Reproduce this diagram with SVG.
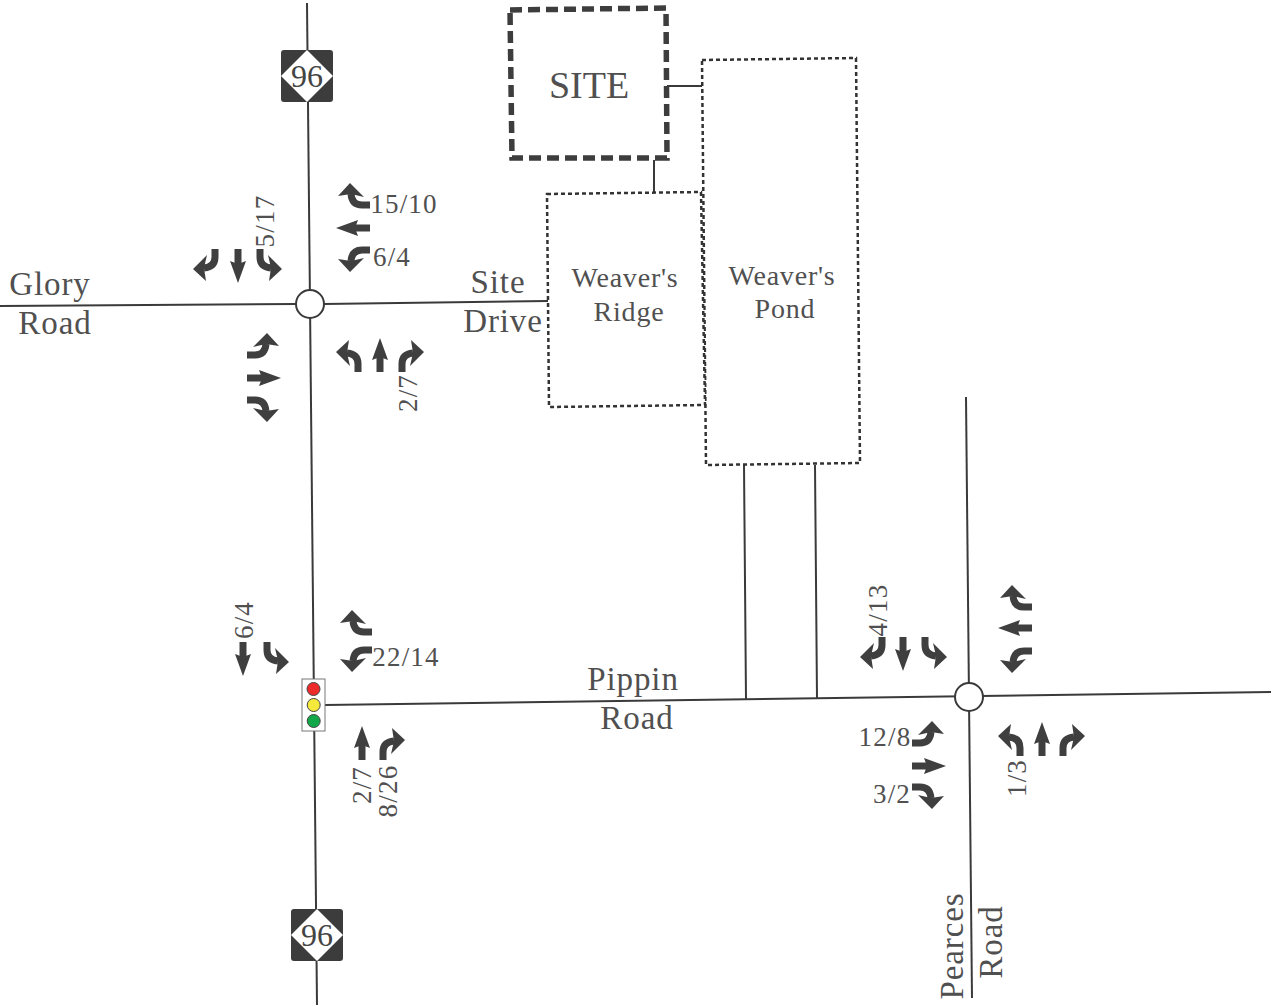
<svg xmlns="http://www.w3.org/2000/svg" xmlns:xlink="http://www.w3.org/1999/xlink" width="1273" height="1006" viewBox="0 0 1273 1006">
<style>
text{font-family:"Liberation Serif","DejaVu Serif",serif;fill:#505050;font-size:33px;letter-spacing:.9px;text-anchor:middle}
.vol{font-size:27px;letter-spacing:1.2px}
.name{font-size:28px;letter-spacing:.8px}
.road{fill:none;stroke:#3a3a3a;stroke-width:2}
.hub{fill:#fff;stroke:#3a3a3a;stroke-width:2}
.lot{fill:#fff;stroke:#333;stroke-width:2.5;stroke-dasharray:4 3}
.site{fill:#fff;stroke:#3d3d3d;stroke-width:5.5;stroke-dasharray:12 6}
.ar{fill:#3f3f3f}
.sh{fill:none;stroke:#3f3f3f;stroke-width:7}
</style>
<defs>
<g id="T"><path class="sh" d="M0,0V-18"/><path class="ar" d="M0,-34L8,-12L0,-15L-8,-12Z"/></g>
<g id="R"><path class="sh" d="M0,0V-8Q0,-18 11,-19"/><path class="ar" d="M22,-20L9,-32L11,-19L8,-6Z"/></g>
<g id="L"><use xlink:href="#R" href="#R" transform="scale(-1,1)"/></g>
<g id="shield"><rect x="-26" y="-26" width="52" height="52" rx="3" fill="#3c3c3c"/><path d="M0,-26L26,0L0,26L-26,0Z" fill="#fff"/><text y="11" style="font-size:32px;fill:#444;letter-spacing:0">96</text></g>
</defs>
<g id="connectors">
<path class="road" d="M307,3L317,1005"/>
<path class="road" d="M0,306L296,304M324,304L548,301"/>
<path class="road" d="M325,705L1271,692"/>
<path class="road" d="M966,397L972,998"/>
<path class="road" d="M744,465L746,699M815,465L817,698"/>
<path class="road" d="M667,86H702M654,160V192"/>
</g>
<g id="pond"><path class="lot" d="M702,60L856,58L860,463L706,465Z"/><text class="name" x="782" y="285">Weaver's</text><text class="name" x="785" y="318">Pond</text></g>
<g id="ridge"><path class="lot" d="M547,194L701,192L705,405L549,407Z"/><text class="name" x="625" y="287">Weaver's</text><text class="name" x="629" y="321">Ridge</text></g>
<g id="site"><path class="site" d="M510,10L666,8L667,158L512,158Z"/><text x="589" y="98" style="font-size:38px;letter-spacing:0">SITE</text></g>
<g id="n96a"><use xlink:href="#shield" href="#shield" transform="translate(307,76)"/></g>
<g id="n96b"><use xlink:href="#shield" href="#shield" transform="translate(317,935)"/></g>
<g id="int1"><circle class="hub" cx="310" cy="304" r="14"/></g>
<g id="int3"><circle class="hub" cx="969" cy="697" r="14"/></g>
<g id="signal"><rect x="302" y="679" width="23" height="52" fill="#fff" stroke="#777" stroke-width="1"/><circle cx="313.5" cy="689" r="6.5" fill="#ee2b2b" stroke="#444"/><circle cx="313.7" cy="705" r="6.5" fill="#f5ea3c" stroke="#444"/><circle cx="313.7" cy="721" r="6.5" fill="#12a84a" stroke="#444"/></g>
<g id="arrows">
<use href="#R" transform="translate(370,205) rotate(-90)"/>
<use href="#T" transform="translate(370,228) rotate(-90)"/>
<use href="#L" transform="translate(370,250) rotate(-90)"/>
<use href="#L" transform="translate(260,249) rotate(180)"/>
<use href="#T" transform="translate(238,249) rotate(180)"/>
<use href="#R" transform="translate(215,249) rotate(180)"/>
<use href="#L" transform="translate(247,355) rotate(90)"/>
<use href="#T" transform="translate(247,378) rotate(90)"/>
<use href="#R" transform="translate(247,400) rotate(90)"/>
<use href="#L" transform="translate(358,372)"/>
<use href="#T" transform="translate(380,372)"/>
<use href="#R" transform="translate(402,372)"/>
<use href="#R" transform="translate(372,632) rotate(-90)"/>
<use href="#L" transform="translate(372,650) rotate(-90)"/>
<use href="#T" transform="translate(243,642) rotate(180)"/>
<use href="#L" transform="translate(267,642) rotate(180)"/>
<use href="#T" transform="translate(362,760)"/>
<use href="#R" transform="translate(383,760)"/>
<use href="#R" transform="translate(1032,607) rotate(-90)"/>
<use href="#T" transform="translate(1032,628) rotate(-90)"/>
<use href="#L" transform="translate(1032,651) rotate(-90)"/>
<use href="#R" transform="translate(882,637) rotate(180)"/>
<use href="#T" transform="translate(903,637) rotate(180)"/>
<use href="#L" transform="translate(925,637) rotate(180)"/>
<use href="#L" transform="translate(912,743) rotate(90)"/>
<use href="#T" transform="translate(912,766) rotate(90)"/>
<use href="#R" transform="translate(912,787) rotate(90)"/>
<use href="#L" transform="translate(1020,756)"/>
<use href="#T" transform="translate(1042,756)"/>
<use href="#R" transform="translate(1063,756)"/>
</g>
<g id="labels">
<text x="50" y="295">Glory</text>
<text x="55" y="334">Road</text>
<text x="498" y="293">Site</text>
<text x="503" y="332">Drive</text>
<text x="633" y="690">Pippin</text>
<text x="637" y="729">Road</text>
<text transform="translate(963,946) rotate(-90)">Pearces</text>
<text transform="translate(1002,942) rotate(-90)">Road</text>
<text class="vol" x="404" y="213">15/10</text>
<text class="vol" x="392" y="266">6/4</text>
<text class="vol" transform="translate(274,221) rotate(-90)">5/17</text>
<text class="vol" transform="translate(417,393) rotate(-90)">2/7</text>
<text class="vol" transform="translate(253,620) rotate(-90)">6/4</text>
<text class="vol" x="406" y="666">22/14</text>
<text class="vol" transform="translate(371,785) rotate(-90)">2/7</text>
<text class="vol" transform="translate(397,791) rotate(-90)">8/26</text>
<text class="vol" transform="translate(887,610) rotate(-90)">4/13</text>
<text class="vol" x="885" y="746">12/8</text>
<text class="vol" x="892" y="803">3/2</text>
<text class="vol" transform="translate(1026,778) rotate(-90)">1/3</text>
</g>
</svg>
